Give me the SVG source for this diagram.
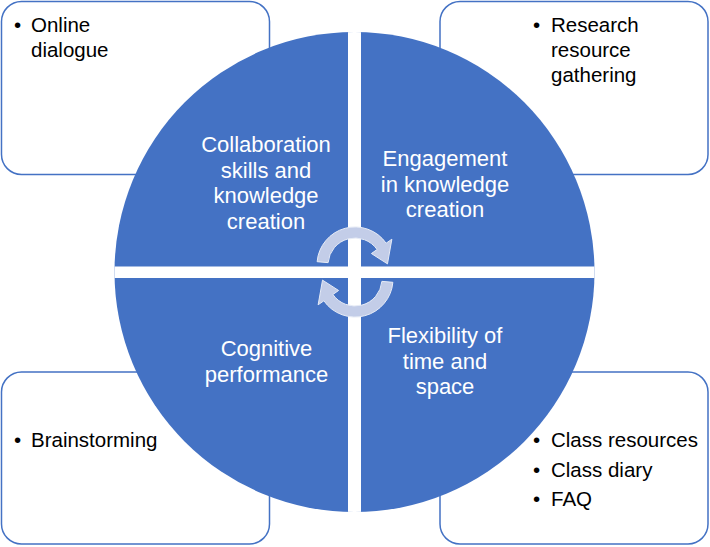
<svg xmlns="http://www.w3.org/2000/svg" width="710" height="547" viewBox="0 0 710 547">
<style>
.box{fill:#ffffff;stroke:#4472c4;stroke-width:1.5}
.bt{font-family:"Liberation Sans",Arial,sans-serif;font-size:20.5px;fill:#000000}
.qt{font-family:"Liberation Sans",Arial,sans-serif;font-size:22px;fill:#ffffff;text-anchor:middle}
.arr{fill:#c3cde8;stroke:#e6ebf6;stroke-width:1}
</style>
<defs>
<clipPath id="cc"><circle cx="354.5" cy="272" r="240"/></clipPath>
<path id="arrowShape" d="M -37.86 -3.31 A 38 38 0 0 1 31.13 -21.80 L 36.86 -25.81 L 32.48 -1.13 L 16.38 -11.47 L 22.12 -15.49 A 27 27 0 0 0 -26.9 -2.35 Z"/>
</defs>
<g id="box-tl">
<rect class="box" x="1.5" y="1.5" width="268" height="173" rx="20"/>
<text class="bt" x="14" y="32">•</text>
<text class="bt" x="31" y="32">Online</text>
<text class="bt" x="31" y="57">dialogue</text>
</g>
<g id="box-tr">
<rect class="box" x="440" y="1.5" width="268" height="173" rx="20"/>
<text class="bt" x="533" y="32">•</text>
<text class="bt" x="551" y="32">Research</text>
<text class="bt" x="551" y="57">resource</text>
<text class="bt" x="551" y="82">gathering</text>
</g>
<g id="box-bl">
<rect class="box" x="1.5" y="372" width="268" height="172" rx="20"/>
<text class="bt" x="14" y="447">•</text>
<text class="bt" x="31" y="447">Brainstorming</text>
</g>
<g id="box-br">
<rect class="box" x="440" y="372" width="268" height="172" rx="20"/>
<text class="bt" x="533" y="447">•</text>
<text class="bt" x="551" y="447">Class resources</text>
<text class="bt" x="533" y="477">•</text>
<text class="bt" x="551" y="477">Class diary</text>
<text class="bt" x="533" y="506">•</text>
<text class="bt" x="551" y="506">FAQ</text>
</g>
<g id="circle">
<circle cx="354.5" cy="272" r="240" fill="#4472c4"/>
<g clip-path="url(#cc)" fill="#ffffff">
<rect x="348" y="20" width="13" height="510"/>
<rect x="100" y="266.5" width="510" height="11.5"/>
</g>
</g>
<g id="q-tl">
<text class="qt" x="266" y="152">Collaboration</text>
<text class="qt" x="266" y="177.5">skills and</text>
<text class="qt" x="266" y="203">knowledge</text>
<text class="qt" x="266" y="228.5">creation</text>
</g>
<g id="q-tr">
<text class="qt" x="445" y="166">Engagement</text>
<text class="qt" x="445" y="191.5">in knowledge</text>
<text class="qt" x="445" y="217">creation</text>
</g>
<g id="q-bl">
<text class="qt" x="266.5" y="356">Cognitive</text>
<text class="qt" x="266.5" y="382">performance</text>
</g>
<g id="q-br">
<text class="qt" x="445" y="343">Flexibility of</text>
<text class="qt" x="445" y="368.5">time and</text>
<text class="qt" x="445" y="394">space</text>
</g>
<g id="connectors">
<use href="#arrowShape" class="arr" transform="translate(355,265)"/>
<use href="#arrowShape" class="arr" transform="translate(355,279) rotate(180)"/>
</g>
</svg>
